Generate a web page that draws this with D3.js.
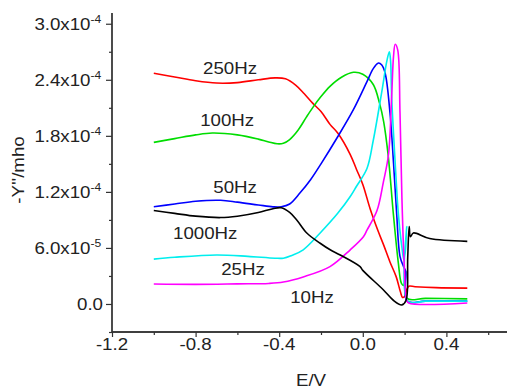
<!DOCTYPE html>
<html>
<head>
<meta charset="utf-8">
<script src="https://cdn.jsdelivr.net/npm/d3@7"></script>
<style>
  html, body { margin: 0; padding: 0; background: #fff; }
  svg { display: block; }
  text { font-family: "Liberation Sans", Arial, sans-serif; fill: #222; }
</style>
</head>
<body>
<div id="chart"></div>
<script>
// ---- data (E in V, -Y'' in units of 1e-4 mho) ----
const hz250 = [[-1.0,2.47],[-0.9,2.43],[-0.8,2.39],[-0.7,2.365],[-0.6,2.37],[-0.5,2.40],[-0.42,2.42],[-0.37,2.41],[-0.32,2.34],[-0.28,2.25],[-0.24,2.15],[-0.2,2.06],[-0.156,1.92],[-0.12,1.83],[-0.06,1.60],[-0.03,1.44],[0.0,1.28],[0.035,1.02],[0.07,0.80],[0.1,0.63],[0.13,0.45],[0.16,0.29],[0.18,0.13],[0.19,0.07],[0.2,0.08],[0.21,0.15],[0.22,0.19],[0.25,0.185],[0.35,0.175],[0.5,0.17]];
const hz100 = [[-1.0,1.73],[-0.9,1.77],[-0.8,1.81],[-0.72,1.83],[-0.6,1.81],[-0.5,1.765],[-0.45,1.735],[-0.41,1.715],[-0.38,1.72],[-0.35,1.76],[-0.31,1.86],[-0.27,2.0],[-0.237,2.11],[-0.2,2.22],[-0.157,2.33],[-0.1,2.43],[-0.045,2.48],[0.0,2.46],[0.05,2.35],[0.08,2.15],[0.1,1.95],[0.122,1.58],[0.146,0.97],[0.17,0.44],[0.185,0.22],[0.195,0.2],[0.205,0.35],[0.212,0.06],[0.3,0.06],[0.5,0.055]];
const hz50 = [[-1.0,1.04],[-0.9,1.07],[-0.8,1.10],[-0.68,1.11],[-0.6,1.09],[-0.5,1.06],[-0.43,1.04],[-0.39,1.04],[-0.35,1.07],[-0.3,1.19],[-0.25,1.33],[-0.2,1.5],[-0.12,1.79],[-0.045,2.08],[0.02,2.38],[0.05,2.52],[0.075,2.58],[0.09,2.56],[0.107,2.47],[0.13,2.05],[0.147,1.51],[0.162,0.97],[0.178,0.51],[0.195,0.4],[0.205,0.35],[0.212,0.03],[0.3,0.03],[0.5,0.03]];
const hz25 = [[-1.0,0.48],[-0.9,0.5],[-0.7,0.525],[-0.55,0.51],[-0.42,0.49],[-0.38,0.49],[-0.34,0.52],[-0.285,0.58],[-0.204,0.76],[-0.12,0.97],[-0.06,1.15],[-0.03,1.26],[0.02,1.45],[0.05,1.75],[0.09,2.26],[0.115,2.6],[0.127,2.7],[0.133,2.6],[0.138,2.22],[0.155,1.51],[0.17,0.97],[0.187,0.61],[0.197,0.47],[0.205,0.6],[0.21,0.83],[0.215,0.03],[0.3,0.03],[0.5,0.03]];
const hz10 = [[-1.0,0.214],[-0.8,0.21],[-0.6,0.215],[-0.45,0.22],[-0.38,0.235],[-0.285,0.29],[-0.157,0.4],[-0.06,0.58],[0.003,0.72],[0.02,0.79],[0.068,1.0],[0.098,1.3],[0.123,1.6],[0.138,2.22],[0.147,2.65],[0.155,2.78],[0.167,2.72],[0.178,2.05],[0.187,1.15],[0.198,0.44],[0.21,0.04],[0.22,0.01],[0.5,0.01]];
const hz1000 = [[-1.0,1.0],[-0.9,0.97],[-0.8,0.94],[-0.68,0.925],[-0.6,0.94],[-0.5,0.98],[-0.43,1.02],[-0.39,1.03],[-0.35,0.98],[-0.316,0.9],[-0.268,0.76],[-0.204,0.65],[-0.156,0.58],[-0.108,0.525],[-0.013,0.4],[0.0,0.36],[0.099,0.15],[0.146,0.04],[0.187,-0.01],[0.207,0.04],[0.215,0.5],[0.222,0.83],[0.228,0.72],[0.242,0.76],[0.32,0.70],[0.5,0.67]];

const seriesNames = ["250Hz","100Hz","50Hz","25Hz","10Hz","1000Hz"];
const seriesData = [hz250, hz100, hz50, hz25, hz10, hz1000];
const seriesColors = ["#ff0000","#00dd00","#0000ff","#00eeee","#ff00ff","#000000"];
// label anchor points (in data units, baseline)
const labelX = [-0.635, -0.649, -0.611, -0.573, -0.243, -0.754];
const labelY = [2.462, 1.905, 1.188, 0.31, 0.01, 0.696];

const xTicks = [-1.2, -0.8, -0.4, 0.0, 0.4];
const xTickLabels = ["-1.2", "-0.8", "-0.4", "0.0", "0.4"];
const xMinor = [-1.0, -0.6, -0.2, 0.2, 0.6];
const yTicks = [0, 0.6, 1.2, 1.8, 2.4, 3.0];
const yTickMantissa = ["0.0", "6.0x10", "1.2x10", "1.8x10", "2.4x10", "3.0x10"];
const yTickExponent = ["", "-5", "-4", "-4", "-4", "-4"];
const yMinor = [-0.3, 0.3, 0.9, 1.5, 2.1, 2.7];

// ---- drawing ----
const W = 507, H = 389;
const FS = 17, SX = 1.1; // font size and slight horizontal stretch of the original raster
const svg = d3.select("#chart").append("svg").attr("width", W).attr("height", H);

const x = d3.scaleLinear().domain([-1.2, 0.69]).range([112, 507]);
const y = d3.scaleLinear().domain([-0.3, 3.115]).range([332, 13]);

const axisColor = "#333";

function label(g, tx, ty, str, anchor, size, rot) {
  return g.append("text")
    .attr("transform", `translate(${tx},${ty})` + (rot ? ` rotate(${rot})` : "") + ` scale(${SX},1)`)
    .attr("text-anchor", anchor)
    .attr("font-size", size || FS)
    .text(str);
}

// x axis
const gx = svg.append("g").attr("transform", `translate(0,${y(-0.3)})`);
gx.call(d3.axisBottom(x).tickValues(xTicks).tickSize(5).tickFormat(""));
gx.append("g").call(d3.axisBottom(x).tickValues(xMinor).tickSize(3).tickFormat(""));
gx.selectAll(".domain").attr("stroke", axisColor).attr("stroke-width", 1.3).attr("d", `M112,0H507`);
gx.selectAll(".tick line").attr("stroke", axisColor).attr("stroke-width", 1.2);

const xl = svg.append("g");
xTicks.forEach((t, i) => label(xl, x(t), 350, xTickLabels[i], "middle"));

// y axis
const gy = svg.append("g").attr("transform", `translate(${x(-1.2)},0)`);
gy.call(d3.axisLeft(y).tickValues(yTicks).tickSize(6).tickFormat(""));
gy.append("g").call(d3.axisLeft(y).tickValues(yMinor).tickSize(3).tickFormat(""));
gy.selectAll(".domain").attr("stroke", axisColor).attr("stroke-width", 1.3).attr("d", `M0,${y(-0.3)}V13`);
gy.selectAll(".tick line").attr("stroke", axisColor).attr("stroke-width", 1.2);

const yl = svg.append("g");
yTicks.forEach((t, i) => {
  if (yTickExponent[i]) {
    label(yl, 90.5, y(t) + 6, yTickMantissa[i], "end");
    label(yl, 90.5, y(t) - 1, yTickExponent[i], "start", 11);
  } else {
    label(yl, 103, y(t) + 6, yTickMantissa[i], "end");
  }
});

// axis titles
label(svg, 311, 386, "E/V", "middle");
label(svg, 24, 170, "-Y''/mho", "middle", FS, -90);

// series
const line = d3.line().x(d => x(d[0])).y(d => y(d[1])).curve(d3.curveCatmullRom.alpha(0.5));
svg.append("g").selectAll("path").data(seriesData).join("path")
  .attr("d", d => line(d))
  .attr("fill", "none")
  .attr("stroke", (d, i) => seriesColors[i])
  .attr("stroke-width", 1.6)
  .attr("stroke-linejoin", "round");

// series labels
const sl = svg.append("g");
seriesNames.forEach((n, i) => label(sl, x(labelX[i]), y(labelY[i]), n, "middle"));
</script>
</body>
</html>
